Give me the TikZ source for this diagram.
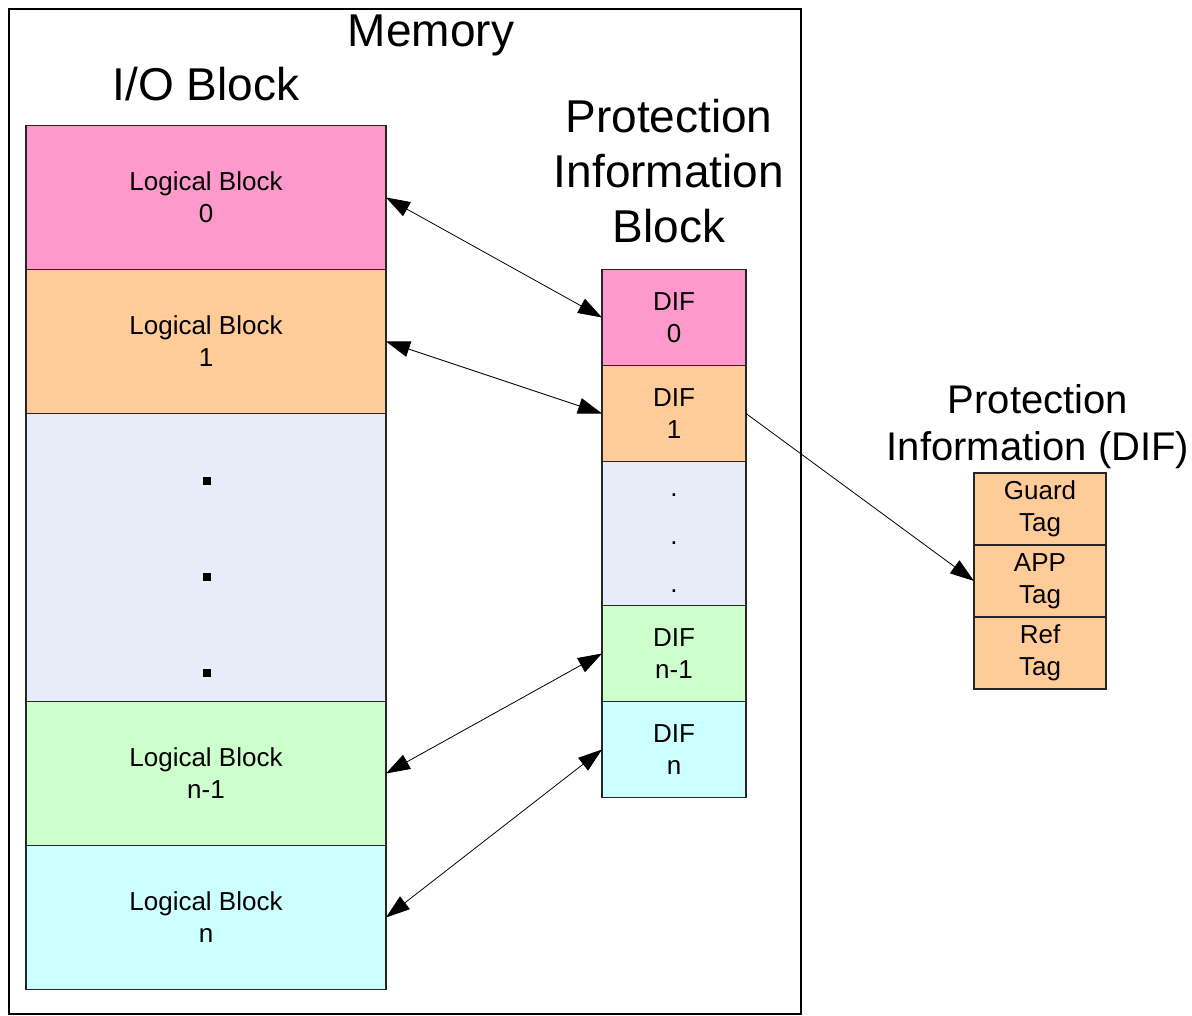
\documentclass[tikz,border=0pt]{standalone}
\usepackage{fontspec}
\setmainfont{Liberation Sans}
\usetikzlibrary{arrows.meta}
\definecolor{pinkfill}{HTML}{FF99CC}
\definecolor{orangefill}{HTML}{FFCC99}
\definecolor{greyfill}{HTML}{E6ECF8}
\definecolor{greenfill}{HTML}{CCFFCC}
\definecolor{cyanfill}{HTML}{CCFFFF}
\begin{document}
\begin{tikzpicture}[x=1pt,y=-1pt,
  cell/.style={draw=black!85, line width=1.3pt, inner sep=0pt, outer sep=0pt,
    align=center, font=\fontsize{26}{32}\selectfont},
  lblock/.style={cell, minimum width=360pt, minimum height=144pt},
  difblock/.style={cell, minimum width=144pt, minimum height=96pt},
  tagblock/.style={cell, minimum width=132pt, minimum height=72pt},
  title/.style={font=\fontsize{46}{55}\selectfont, align=center, inner sep=0pt},
  subtitle/.style={font=\fontsize{40}{47}\selectfont, align=center, inner sep=0pt},
  dotmark/.style={font=\fontsize{26}{30}\selectfont, anchor=base, inner sep=0pt},
  link/.style={line width=0.8pt, {Triangle[length=24pt,width=16pt]}-{Triangle[length=24pt,width=16pt]}},
  pointer/.style={line width=0.8pt, -{Triangle[length=24pt,width=16pt]}}]
\useasboundingbox (0,0) rectangle (1192,1016);

% memory frame
\draw[line width=2pt] (9,9) rectangle (801,1014);

% titles (base anchor sits on the last line)
\node[title, anchor=base] (memtitle) at (431,47) {Memory};
\node[title, anchor=base] (iotitle) at (206,101) {I/O Block};
\node[title, anchor=base] (pibtitle) at (669,243) {Protection\\Information\\Block};
\node[subtitle, anchor=base] (diftitle) at (1038,460) {Protection\\Information (DIF)};

% I/O block: logical blocks
\node[lblock, fill=pinkfill]   (lb0)   at (206,197.5) {Logical Block\\0};
\node[lblock, fill=orangefill] (lb1)   at (206,341.5) {Logical Block\\1};
\node[lblock, fill=greyfill, minimum height=288pt] (lbdots) at (206,557.5) {};
\node[lblock, fill=greenfill]  (lbn1)  at (206,773.5) {Logical Block\\n-1};
\node[lblock, fill=cyanfill]   (lbn)   at (206,917.5) {Logical Block\\n};
\fill (203,477) rectangle (211,485);
\fill (203,573) rectangle (211,581);
\fill (203,669) rectangle (211,677);

% protection information block
\node[difblock, fill=pinkfill]   (dif0)  at (674,317.5) {DIF\\0};
\node[difblock, fill=orangefill] (dif1)  at (674,413.5) {DIF\\1};
\node[difblock, fill=greyfill, minimum height=144pt] (difdots) at (674,533.5) {};
\node[difblock, fill=greenfill]  (difn1) at (674,653.5) {DIF\\n-1};
\node[difblock, fill=cyanfill]   (difn)  at (674,749.5) {DIF\\n};
\node[dotmark] (pd1) at (674,496) {.};
\node[dotmark] (pd2) at (674,544) {.};
\node[dotmark] (pd3) at (674,592) {.};

% DIF fields
\node[tagblock, fill=orangefill] (guard) at (1040,509) {Guard\\Tag};
\node[tagblock, fill=orangefill] (app)   at (1040,581) {APP\\Tag};
\node[tagblock, fill=orangefill] (ref)   at (1040,653) {Ref\\Tag};

% connectors
\draw[link] (lb0.east)  -- (dif0.west);
\draw[link] (lb1.east)  -- (dif1.west);
\draw[link] (lbn1.east) -- (difn1.west);
\draw[link] (lbn.east)  -- (difn.west);
\draw[pointer] (dif1.east) -- (app.west);
\end{tikzpicture}
\end{document}
